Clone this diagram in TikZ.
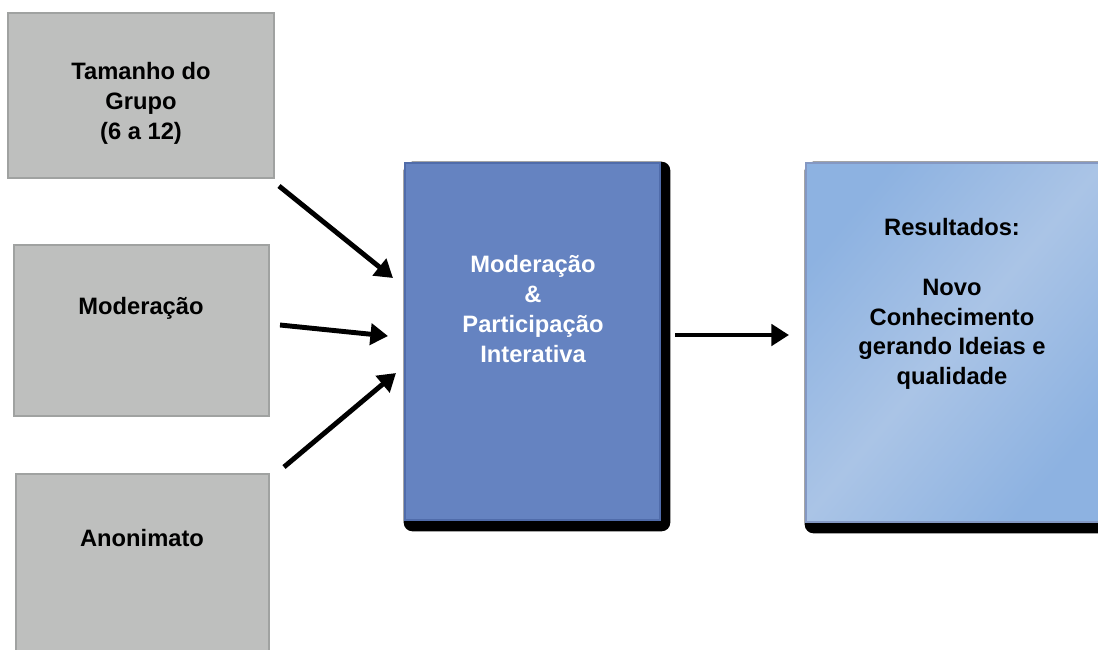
\documentclass[tikz,border=0pt]{standalone}
\usepackage{fontspec}
\setmainfont{Liberation Sans}
\usetikzlibrary{arrows.meta}
\definecolor{cinza}{RGB}{190,191,190}
\definecolor{cinzaborda}{RGB}{160,162,161}
\definecolor{azulmeio}{RGB}{101,131,193}
\definecolor{azulborda}{RGB}{80,108,170}
\definecolor{azulres}{RGB}{141,178,225}
\definecolor{azulclaro}{RGB}{170,196,230}
\begin{document}
\begin{tikzpicture}[x=0.02cm,y=-0.02cm,
    font=\bfseries\fontsize{13.5}{17}\selectfont,
    caixa/.style={draw=cinzaborda,fill=cinza,line width=0.7pt,inner sep=0pt},
    meio/.style={draw=azulborda,fill=azulmeio,line width=0.7pt,inner sep=0pt},
    res/.style={draw=azulborda!70,line width=0.7pt,inner sep=0pt,
        shading=axis,left color=azulres,right color=azulres,
        middle color=azulclaro,shading angle=50},
    txt/.style={align=center},
    seta/.style={line width=2.8pt,-{Triangle[length=10pt,width=12pt]}}]
    \useasboundingbox (0,0) rectangle (1098,649);
    \clip (0,0) rectangle (1098,649);
    % caixas da esquerda
    \node[caixa,minimum width=5.32cm,minimum height=3.3cm] (grupo) at (141,95.5) {};
    \node[caixa,minimum width=5.1cm,minimum height=3.42cm] (moder) at (141.5,330.5) {};
    \node[caixa,minimum width=5.06cm,minimum height=3.72cm] (anon) at (142.5,567) {};
    \node[txt] (tgrupo) at (141,103) {Tamanho do\\Grupo\\(6 a 12)};
    \node[txt] (tmoder) at (141,308) {Moderação};
    \node[txt] (tanon) at (142,538) {Anonimato};
    % caixa do meio, com sombra
    \node[minimum width=5.1cm,minimum height=7.14cm,inner sep=0pt] (meio) at (532.5,341.5) {};
    \fill[black,rounded corners=5pt] ([shift={(-1,-1)}]meio.north west)
        rectangle ([shift={(10,11)}]meio.south east);
    \node[meio,minimum width=5.1cm,minimum height=7.14cm] at (meio) {};
    \node[txt,white] (tmeio) at (533,309) {Moderação\\\&\\Participação\\Interativa};
    % caixa dos resultados
    \node[minimum width=5.88cm,minimum height=7.18cm,inner sep=0pt] (result) at (953,342.5) {};
    \fill[black,rounded corners=5pt] ([shift={(-1,-1)}]result.north west)
        rectangle ([shift={(10,11)}]result.south east);
    \node[res,minimum width=5.88cm,minimum height=7.18cm] at (result) {};
    \node[txt] (tres) at (952,304) {Resultados:\\[17pt]Novo\\Conhecimento\\gerando Ideias e\\qualidade};
    % setas
    \coordinate (s1) at (279,186);
    \coordinate (e1) at (393,278);
    \coordinate (s2) at (280,325);
    \coordinate (e2) at (388,336);
    \coordinate (s3) at (284,467);
    \coordinate (e3) at (396,373);
    \coordinate (s4) at (675,335);
    \coordinate (e4) at (789,335);
    \draw[seta] (s1) -- (e1);
    \draw[seta] (s2) -- (e2);
    \draw[seta] (s3) -- (e3);
    \draw[seta] (s4) -- (e4);
\end{tikzpicture}
\end{document}
